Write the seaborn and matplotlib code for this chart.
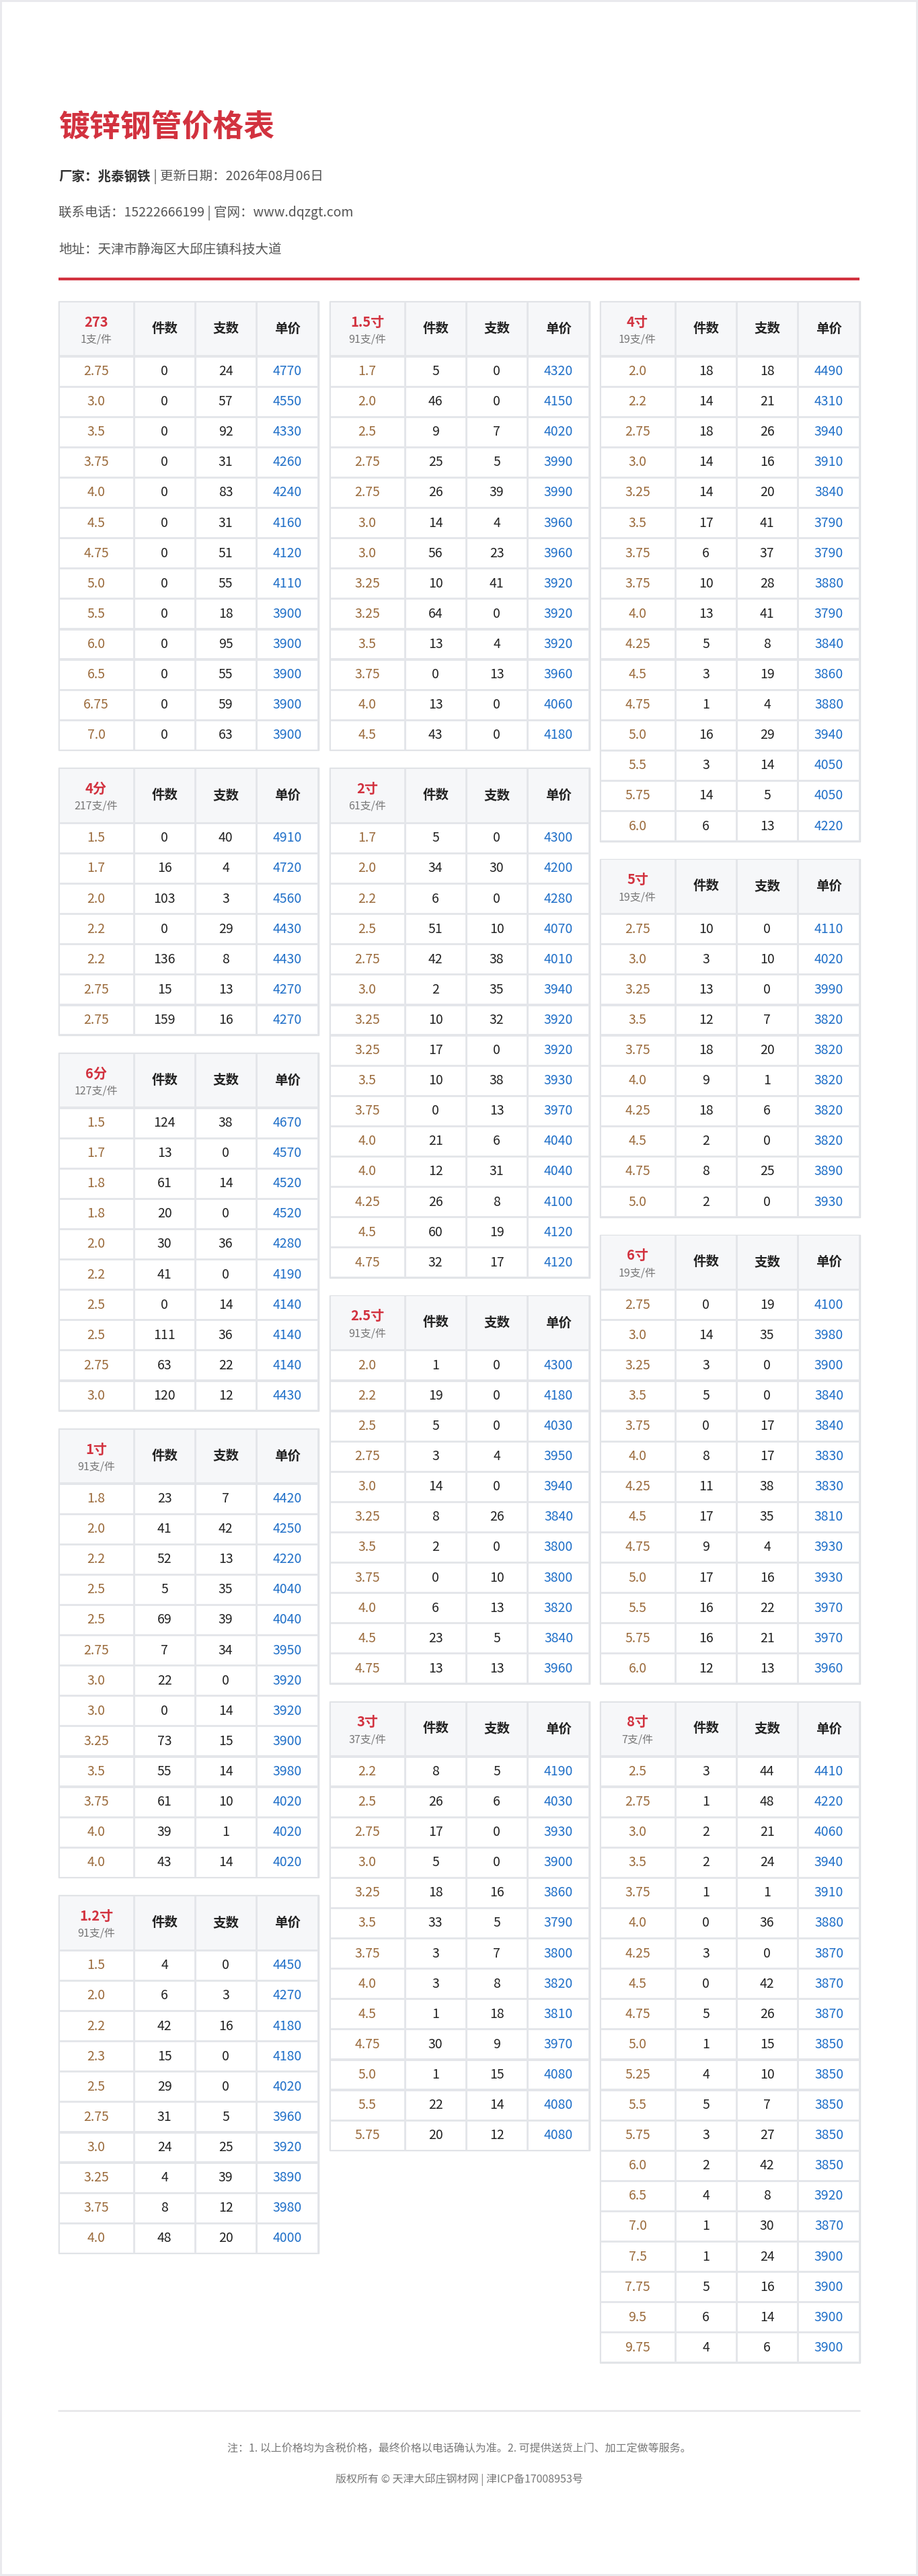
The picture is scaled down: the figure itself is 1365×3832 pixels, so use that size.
import matplotlib
matplotlib.use("Agg")
import matplotlib.pyplot as plt
from matplotlib.patches import Rectangle
import seaborn as sns

sns.set_theme(style="white")
plt.rcParams['font.family'] = ['Noto Sans CJK SC', 'DejaVu Sans']

# ---------------- data ----------------
title = "镀锌钢管价格表"
info_lines = [
    [("厂家：兆泰钢铁", True), (" | 更新日期：2026年08月06日", False)],
    [("联系电话：15222666199 | 官网：www.dqzgt.com", False)],
    [("地址：天津市静海区大邱庄镇科技大道", False)],
]
headers = ["件数", "支数", "单价"]
note = "注：1. 以上价格均为含税价格，最终价格以电话确认为准。2. 可提供送货上门、加工定做等服务。"
copyright_text = "版权所有 © 天津大邱庄钢材网 | 津ICP备17008953号"

names = ["273", "4分", "6分", "1寸", "1.2寸",
         "1.5寸", "2寸", "2.5寸", "3寸",
         "4寸", "5寸", "6寸", "8寸"]
per_piece = ["1支/件", "217支/件", "127支/件", "91支/件", "91支/件",
             "91支/件", "61支/件", "91支/件", "37支/件",
             "19支/件", "19支/件", "19支/件", "7支/件"]
column_of = [0, 0, 0, 0, 0, 1, 1, 1, 1, 2, 2, 2, 2]

thick = [
    ["2.75","3.0","3.5","3.75","4.0","4.5","4.75","5.0","5.5","6.0","6.5","6.75","7.0"],
    ["1.5","1.7","2.0","2.2","2.2","2.75","2.75"],
    ["1.5","1.7","1.8","1.8","2.0","2.2","2.5","2.5","2.75","3.0"],
    ["1.8","2.0","2.2","2.5","2.5","2.75","3.0","3.0","3.25","3.5","3.75","4.0","4.0"],
    ["1.5","2.0","2.2","2.3","2.5","2.75","3.0","3.25","3.75","4.0"],
    ["1.7","2.0","2.5","2.75","2.75","3.0","3.0","3.25","3.25","3.5","3.75","4.0","4.5"],
    ["1.7","2.0","2.2","2.5","2.75","3.0","3.25","3.25","3.5","3.75","4.0","4.0","4.25","4.5","4.75"],
    ["2.0","2.2","2.5","2.75","3.0","3.25","3.5","3.75","4.0","4.5","4.75"],
    ["2.2","2.5","2.75","3.0","3.25","3.5","3.75","4.0","4.5","4.75","5.0","5.5","5.75"],
    ["2.0","2.2","2.75","3.0","3.25","3.5","3.75","3.75","4.0","4.25","4.5","4.75","5.0","5.5","5.75","6.0"],
    ["2.75","3.0","3.25","3.5","3.75","4.0","4.25","4.5","4.75","5.0"],
    ["2.75","3.0","3.25","3.5","3.75","4.0","4.25","4.5","4.75","5.0","5.5","5.75","6.0"],
    ["2.5","2.75","3.0","3.5","3.75","4.0","4.25","4.5","4.75","5.0","5.25","5.5","5.75","6.0","6.5","7.0","7.5","7.75","9.5","9.75"],
]
pieces = [
    [0,0,0,0,0,0,0,0,0,0,0,0,0],
    [0,16,103,0,136,15,159],
    [124,13,61,20,30,41,0,111,63,120],
    [23,41,52,5,69,7,22,0,73,55,61,39,43],
    [4,6,42,15,29,31,24,4,8,48],
    [5,46,9,25,26,14,56,10,64,13,0,13,43],
    [5,34,6,51,42,2,10,17,10,0,21,12,26,60,32],
    [1,19,5,3,14,8,2,0,6,23,13],
    [8,26,17,5,18,33,3,3,1,30,1,22,20],
    [18,14,18,14,14,17,6,10,13,5,3,1,16,3,14,6],
    [10,3,13,12,18,9,18,2,8,2],
    [0,14,3,5,0,8,11,17,9,17,16,16,12],
    [3,1,2,2,1,0,3,0,5,1,4,5,3,2,4,1,1,5,6,4],
]
sticks = [
    [24,57,92,31,83,31,51,55,18,95,55,59,63],
    [40,4,3,29,8,13,16],
    [38,0,14,0,36,0,14,36,22,12],
    [7,42,13,35,39,34,0,14,15,14,10,1,14],
    [0,3,16,0,0,5,25,39,12,20],
    [0,0,7,5,39,4,23,41,0,4,13,0,0],
    [0,30,0,10,38,35,32,0,38,13,6,31,8,19,17],
    [0,0,0,4,0,26,0,10,13,5,13],
    [5,6,0,0,16,5,7,8,18,9,15,14,12],
    [18,21,26,16,20,41,37,28,41,8,19,4,29,14,5,13],
    [0,10,0,7,20,1,6,0,25,0],
    [19,35,0,0,17,17,38,35,4,16,22,21,13],
    [44,48,21,24,1,36,0,42,26,15,10,7,27,42,8,30,24,16,14,6],
]
prices = [
    [4770,4550,4330,4260,4240,4160,4120,4110,3900,3900,3900,3900,3900],
    [4910,4720,4560,4430,4430,4270,4270],
    [4670,4570,4520,4520,4280,4190,4140,4140,4140,4430],
    [4420,4250,4220,4040,4040,3950,3920,3920,3900,3980,4020,4020,4020],
    [4450,4270,4180,4180,4020,3960,3920,3890,3980,4000],
    [4320,4150,4020,3990,3990,3960,3960,3920,3920,3920,3960,4060,4180],
    [4300,4200,4280,4070,4010,3940,3920,3920,3930,3970,4040,4040,4100,4120,4120],
    [4300,4180,4030,3950,3940,3840,3800,3800,3820,3840,3960],
    [4190,4030,3930,3900,3860,3790,3800,3820,3810,3970,4080,4080,4080],
    [4490,4310,3940,3910,3840,3790,3790,3880,3790,3840,3860,3880,3940,4050,4050,4220],
    [4110,4020,3990,3820,3820,3820,3820,3820,3890,3930],
    [4100,3980,3900,3840,3840,3830,3830,3810,3930,3930,3970,3970,3960],
    [4410,4220,4060,3940,3910,3880,3870,3870,3870,3850,3850,3850,3850,3850,3920,3870,3900,3900,3900,3900],
]

# ---------------- layout / style ----------------
W, H = 1365, 3832
RED = "#d2323f"
BROWN = "#9b6b3c"
BLUE = "#1f6fc8"
GRID = "#e4e6ea"
HEAD_BG = "#f6f7f9"

fig = plt.figure(figsize=(W / 100, H / 100), dpi=100)
ax = fig.add_axes([0, 0, 1, 1])
ax.set_xlim(0, W)
ax.set_ylim(H, 0)
ax.axis("off")
fig.patch.set_facecolor("white")

# page frame
ax.add_patch(Rectangle((1, 1), W - 3, H - 3, fill=False, ec="#e8e8ec", lw=2))

ax.text(87, 190, title, color=RED, fontsize=33, fontweight="bold", va="center", ha="left")
ys = [263, 317, 371]
for y, parts in zip(ys, info_lines):
    x = 87
    for txt, bold in parts:
        t = ax.text(x, y, txt, fontsize=14, color="#333333" if bold else "#555555",
                    fontweight="bold" if bold else "normal", va="center", ha="left")
        fig.canvas.draw() if False else None
        r = fig.canvas.get_renderer()
        bb = t.get_window_extent(renderer=r)
        x += bb.width
ax.plot([87, 1278], [415, 415], color=RED, lw=3, solid_capstyle="butt")

col_x = [87, 490, 892]
TW = 387
HEAD_H = 82
ROW_H = 45.1
GAP = 26
fracs = [0.29, 0.235, 0.235, 0.24]

col_y = [448, 448, 448]
for i, name in enumerate(names):
    c = column_of[i]
    x0 = col_x[c]
    y0 = col_y[c]
    n = len(thick[i])
    th = HEAD_H + n * ROW_H
    ax.add_patch(Rectangle((x0, y0), TW, th, fc=GRID, ec="#dfe1e5", lw=1))
    edges = [x0]
    for f in fracs:
        edges.append(edges[-1] + f * TW)
    pad = 1.6
    # header
    for j in range(4):
        ax.add_patch(Rectangle((edges[j] + pad, y0 + pad), edges[j + 1] - edges[j] - 2 * pad,
                               HEAD_H - 2 * pad, fc=HEAD_BG, ec="none"))
    cx0 = (edges[0] + edges[1]) / 2
    ax.text(cx0, y0 + 31, name, color=RED, fontsize=14.5, fontweight="bold", ha="center", va="center")
    ax.text(cx0, y0 + 57, per_piece[i], color="#777777", fontsize=11.5, ha="center", va="center")
    for j, h in enumerate(headers):
        ax.text((edges[j + 1] + edges[j + 2]) / 2, y0 + HEAD_H / 2, h, fontsize=14,
                fontweight="bold", color="#222222", ha="center", va="center")
    # rows
    for r in range(n):
        ry = y0 + HEAD_H + r * ROW_H
        for j in range(4):
            ax.add_patch(Rectangle((edges[j] + pad, ry + pad), edges[j + 1] - edges[j] - 2 * pad,
                                   ROW_H - 2 * pad, fc="white", ec="none"))
        cy = ry + ROW_H / 2
        vals = [(thick[i][r], BROWN), (str(pieces[i][r]), "#222222"),
                (str(sticks[i][r]), "#222222"), (str(prices[i][r]), BLUE)]
        for j, (v, colr) in enumerate(vals):
            ax.text((edges[j] + edges[j + 1]) / 2, cy, v, color=colr, fontsize=14,
                    ha="center", va="center")
    col_y[c] = y0 + th + GAP

ax.plot([87, 1278], [3586, 3586], color="#e8e8ea", lw=2)
ax.text(W / 2, 3643, note, fontsize=11.5, color="#777777", ha="center", va="center")
ax.text(W / 2, 3689, copyright_text, fontsize=11.5, color="#777777", ha="center", va="center")

fig.savefig("out.png", dpi=100, facecolor="white")
